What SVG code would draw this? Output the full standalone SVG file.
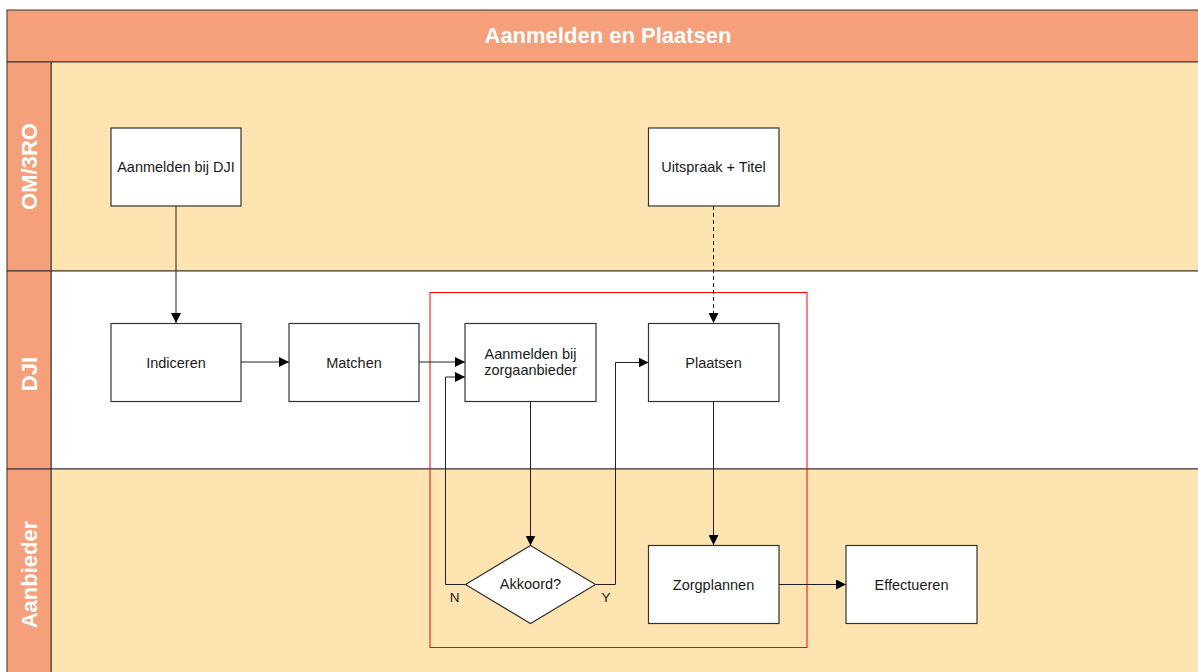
<svg xmlns="http://www.w3.org/2000/svg" width="1198" height="672" viewBox="0 0 1198 672">
<style>
.hdr{fill:#F5A07A;stroke:#333;stroke-width:1}
.lane{stroke:#333;stroke-width:1}
.box{fill:#fff;stroke:#333;stroke-width:1.2}
.t{font-family:"Liberation Sans",Arial,sans-serif;font-size:14.5px;fill:#1a1a1a;text-anchor:middle}
.lbl{font-family:"Liberation Sans",Arial,sans-serif;font-size:22px;font-weight:bold;fill:#fff;text-anchor:middle}
.c{fill:none;stroke:#222;stroke-width:1}
</style>
<defs>
<marker id="ah" viewBox="0 0 10 10" refX="10" refY="5" markerWidth="10" markerHeight="10" markerUnits="userSpaceOnUse" orient="auto">
<path d="M0,0 L10,5 L0,10 Z" fill="#000"/>
</marker>
</defs>
<rect width="1198" height="672" fill="#fff"/>
<g id="pool">
<rect class="hdr" x="7" y="10" width="1200" height="52"/>
<text class="lbl" x="608" y="43">Aanmelden en Plaatsen</text>
<rect class="lane" x="51" y="62" width="1160" height="209" fill="#FEE4B0"/>
<rect class="lane" x="51" y="271" width="1160" height="198" fill="#fff"/>
<rect class="lane" x="51" y="469" width="1160" height="215" fill="#FEE4B0"/>
<rect class="hdr" x="7" y="62" width="44" height="209"/>
<rect class="hdr" x="7" y="271" width="44" height="198"/>
<rect class="hdr" x="7" y="469" width="44" height="215"/>
<text class="lbl" transform="translate(37,166.5) rotate(-90)">OM/3RO</text>
<text class="lbl" transform="translate(37,374) rotate(-90)">DJI</text>
<text class="lbl" transform="translate(37,574.5) rotate(-90)">Aanbieder</text>
</g>
<rect id="highlight" x="430" y="292.5" width="377" height="355" fill="none" stroke="#FF0000" stroke-width="1"/>
<g id="connectors">
<path class="c" d="M176,206 V323" marker-end="url(#ah)"/>
<path class="c" d="M241,362 H289" marker-end="url(#ah)"/>
<path class="c" d="M419,362 H465" marker-end="url(#ah)"/>
<path class="c" d="M530.5,401.5 V545.5" marker-end="url(#ah)"/>
<path class="c" d="M465.5,584.5 H445.5 V377 H465" marker-end="url(#ah)"/>
<path class="c" d="M595.5,584.5 H615.5 V362.5 H648.5" marker-end="url(#ah)"/>
<path class="c" d="M713.5,401.5 V545" marker-end="url(#ah)"/>
<path class="c" d="M779,584.5 H846" marker-end="url(#ah)"/>
<path class="c" d="M713.5,206 V323" stroke-dasharray="4,3" marker-end="url(#ah)"/>
<text class="t" x="454.5" y="601.5" style="font-size:13.5px">N</text>
<text class="t" x="606" y="601.5" style="font-size:13.5px">Y</text>
</g>
<g id="n1"><rect class="box" x="111" y="128" width="130" height="78"/><text class="t" x="176" y="172">Aanmelden bij DJI</text></g>
<g id="n2"><rect class="box" x="648.5" y="128" width="130.5" height="78"/><text class="t" x="713.5" y="172">Uitspraak + Titel</text></g>
<g id="n3"><rect class="box" x="111" y="323.5" width="130" height="78"/><text class="t" x="176" y="367.5">Indiceren</text></g>
<g id="n4"><rect class="box" x="289" y="323.5" width="130" height="78"/><text class="t" x="354" y="367.5">Matchen</text></g>
<g id="n5"><rect class="box" x="465" y="323.5" width="131" height="78"/><text class="t" x="530.5" y="358.5">Aanmelden bij</text><text class="t" x="530.5" y="375">zorgaanbieder</text></g>
<g id="n6"><rect class="box" x="648.5" y="323.5" width="130.5" height="78"/><text class="t" x="713.5" y="367.5">Plaatsen</text></g>
<g id="n7"><path class="box" d="M530.5,545.5 L595.5,584.5 L530.5,623.5 L465.5,584.5 Z"/><text class="t" x="530.5" y="589">Akkoord?</text></g>
<g id="n8"><rect class="box" x="648.5" y="545.5" width="130.5" height="78"/><text class="t" x="713.5" y="589.5">Zorgplannen</text></g>
<g id="n9"><rect class="box" x="846" y="545.5" width="131" height="78"/><text class="t" x="911.5" y="589.5">Effectueren</text></g>
</svg>
